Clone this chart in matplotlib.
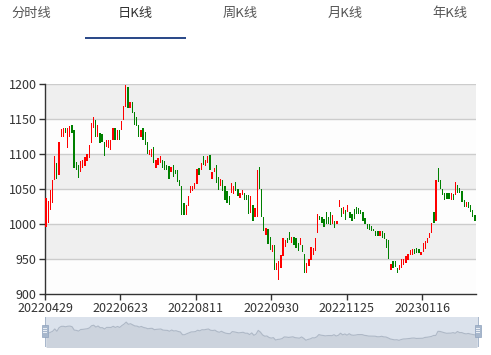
import matplotlib
matplotlib.use('Agg')
import matplotlib.pyplot as plt
from matplotlib.patches import Rectangle
import numpy as np

plt.rcParams['font.family'] = ['Noto Sans CJK SC', 'DejaVu Sans']

# ---------------- data ----------------
tabs = ['分时线', '日K线', '周K线', '月K线', '年K线']
active_tab = 1
tick_labels = ['20220429', '20220623', '20220811', '20220930', '20221125', '20230116']
label_step = 35
y_ticks = [900, 950, 1000, 1050, 1100, 1150, 1200]

opens = [996, 1002, 1020, 1031, 1063, 1087, 1070, 1124, 1125, 1137,
         1109, 1125, 1142, 1135, 1089, 1085, 1074, 1080, 1083, 1090,
         1094, 1116, 1137, 1149, 1125, 1131, 1129, 1117, 1111, 1109,
         1106, 1120, 1137, 1120, 1135, 1135, 1149, 1168, 1196, 1166,
         1174, 1160, 1153, 1142, 1124, 1137, 1132, 1118, 1099, 1096,
         1110, 1080, 1085, 1088, 1092, 1090, 1085, 1083, 1075, 1085,
         1078, 1077, 1063, 1055, 1031, 1013, 1026, 1044, 1047, 1050,
         1058, 1080, 1078, 1097, 1083, 1087, 1099, 1065, 1074, 1085,
         1068, 1054, 1063, 1054, 1047, 1040, 1044, 1043, 1060, 1050,
         1037, 1042, 1044, 1042, 1042, 1016, 1028, 1011, 1010, 1082,
         1051, 1010, 985, 993, 982, 960, 970, 935, 920, 937,
         954, 968, 980, 989, 973, 982, 980, 973, 970, 970,
         958, 930, 940, 949, 956, 962, 988, 1012, 1010, 1007,
         1018, 1011, 1017, 1001, 1005, 1001, 1025, 1023, 1015, 1020,
         1018, 1018, 1015, 1022, 1025, 1023, 1020, 1018, 1009, 1000,
         1000, 998, 993, 991, 990, 983, 990, 988, 979, 978,
         935, 947, 948, 937, 935, 937, 942, 944, 949, 956,
         956, 964, 966, 964, 956, 961, 964, 973, 980, 988,
         1018, 1005, 1081, 1063, 1051, 1045, 1045, 1045, 1034, 1043,
         1042, 1056, 1052, 1047, 1034, 1025, 1032, 1027, 1020, 1013]

closes = [1037, 1033, 1049, 1063, 1098, 1064, 1117, 1136, 1137, 1130,
          1138, 1140, 1131, 1081, 1077, 1066, 1090, 1092, 1096, 1101,
          1113, 1145, 1153, 1125, 1142, 1116, 1117, 1097, 1121, 1120,
          1120, 1137, 1120, 1135, 1120, 1148, 1169, 1199, 1166, 1175,
          1159, 1142, 1140, 1125, 1135, 1120, 1113, 1101, 1106, 1107,
          1087, 1092, 1094, 1097, 1081, 1078, 1077, 1064, 1082, 1068,
          1072, 1061, 1054, 1013, 1013, 1028, 1040, 1054, 1055, 1059,
          1079, 1070, 1087, 1085, 1092, 1097, 1078, 1075, 1080, 1059,
          1049, 1064, 1047, 1035, 1030, 1028, 1059, 1054, 1047, 1040,
          1044, 1049, 1035, 1035, 1015, 1040, 1004, 1023, 1077, 1051,
          1010, 991, 994, 972, 963, 970, 934, 944, 947, 956,
          980, 978, 973, 978, 982, 970, 966, 962, 980, 960,
          931, 944, 951, 968, 966, 981, 1015, 1006, 1002, 996,
          1000, 1001, 999, 1013, 994, 1005, 1035, 1011, 1024, 1006,
          1028, 1009, 1005, 1008, 1015, 1015, 1015, 1004, 1000, 993,
          992, 991, 991, 983, 983, 990, 981, 979, 966, 950,
          943, 937, 939, 930, 942, 950, 951, 954, 958, 963,
          964, 958, 959, 959, 961, 973, 976, 981, 988, 1002,
          1002, 1063, 1061, 1051, 1042, 1034, 1036, 1036, 1044, 1034,
          1061, 1044, 1045, 1032, 1025, 1032, 1023, 1017, 1011, 1005]

# ---------------- figure ----------------
W, H = 491, 355
fig = plt.figure(figsize=(W / 100, H / 100), dpi=100)
fig.patch.set_facecolor('white')


def fx(x):
    return x / W


def fy(y):
    return 1 - y / H


# tabs
for i, t in enumerate(tabs):
    cx = 31 + i * 104.7
    fig.text(fx(cx), fy(13), t, ha='center', va='center', fontsize=9.5,
             color='#333333' if i == active_tab else '#555555')
fig.patches.append(Rectangle((fx(85), fy(39)), (186 - 85) / W, 2 / H,
                             transform=fig.transFigure, color='#2d4b8a', lw=0))

# main axes
ax = fig.add_axes([fx(45), fy(294.3), 431 / W, 210 / H])
n = len(opens)
x = np.arange(n)
ax.set_xlim(-0.5, n - 0.5)
ax.set_ylim(y_ticks[0], y_ticks[-1])
ax.set_facecolor('white')
for i in range(len(y_ticks) - 1):
    ax.axhspan(y_ticks[i], y_ticks[i + 1], color='#efefef' if i % 2 else '#fdfdfd', lw=0, zorder=0)
for v in y_ticks[1:]:
    ax.axhline(v, color='#cccccc', lw=1, zorder=1)

colors = ['#ff0000' if c >= o else '#008000' for o, c in zip(opens, closes)]
heights = [c - o for o, c in zip(opens, closes)]
ax.bar(x, heights, bottom=opens, width=0.6, color=colors, lw=0, zorder=3)

for s in ['top', 'right']:
    ax.spines[s].set_visible(False)
for s in ['left', 'bottom']:
    ax.spines[s].set_color('#333333')
    ax.spines[s].set_linewidth(1)
ax.set_yticks(y_ticks)
ax.set_yticklabels([str(v) for v in y_ticks])
ax.set_xticks([k * label_step - 0.5 for k in range(len(tick_labels))])
ax.set_xticklabels(tick_labels)
ax.tick_params(axis='both', colors='#333333', labelsize=9, length=4, width=1)
ax.tick_params(axis='y', pad=2)
ax.tick_params(axis='x', pad=1.5)

# data-zoom slider
sax = fig.add_axes([fx(45), fy(347), 433 / W, 30 / H])
sax.set_facecolor('#dbe2ec')
sax.fill_between(x, closes, 800, color='#ccd3dd', lw=0)
sax.plot(x, closes, color='#aeb8c6', lw=0.8)
sax.set_xlim(-0.5, n - 0.5)
sax.set_ylim(832, 1274)
sax.set_xticks([])
sax.set_yticks([])
for s in sax.spines.values():
    s.set_visible(False)

for hx in [45, 478]:
    fig.patches.append(Rectangle((fx(hx - 0.5), fy(347)), 1 / W, 30 / H,
                                 transform=fig.transFigure, color='#a9b8cc', lw=0))
    fig.patches.append(Rectangle((fx(hx - 3), fy(337)), 6 / W, 12 / H,
                                 transform=fig.transFigure, facecolor='#a7b7cc', edgecolor='#8fa2bd', lw=0.5))
    for yy in [329, 331, 333]:
        fig.patches.append(Rectangle((fx(hx - 1.8), fy(yy)), 3.6 / W, 0.6 / H,
                                     transform=fig.transFigure, color='#e8edf4', lw=0))

fig.savefig('out.png', dpi=100)
